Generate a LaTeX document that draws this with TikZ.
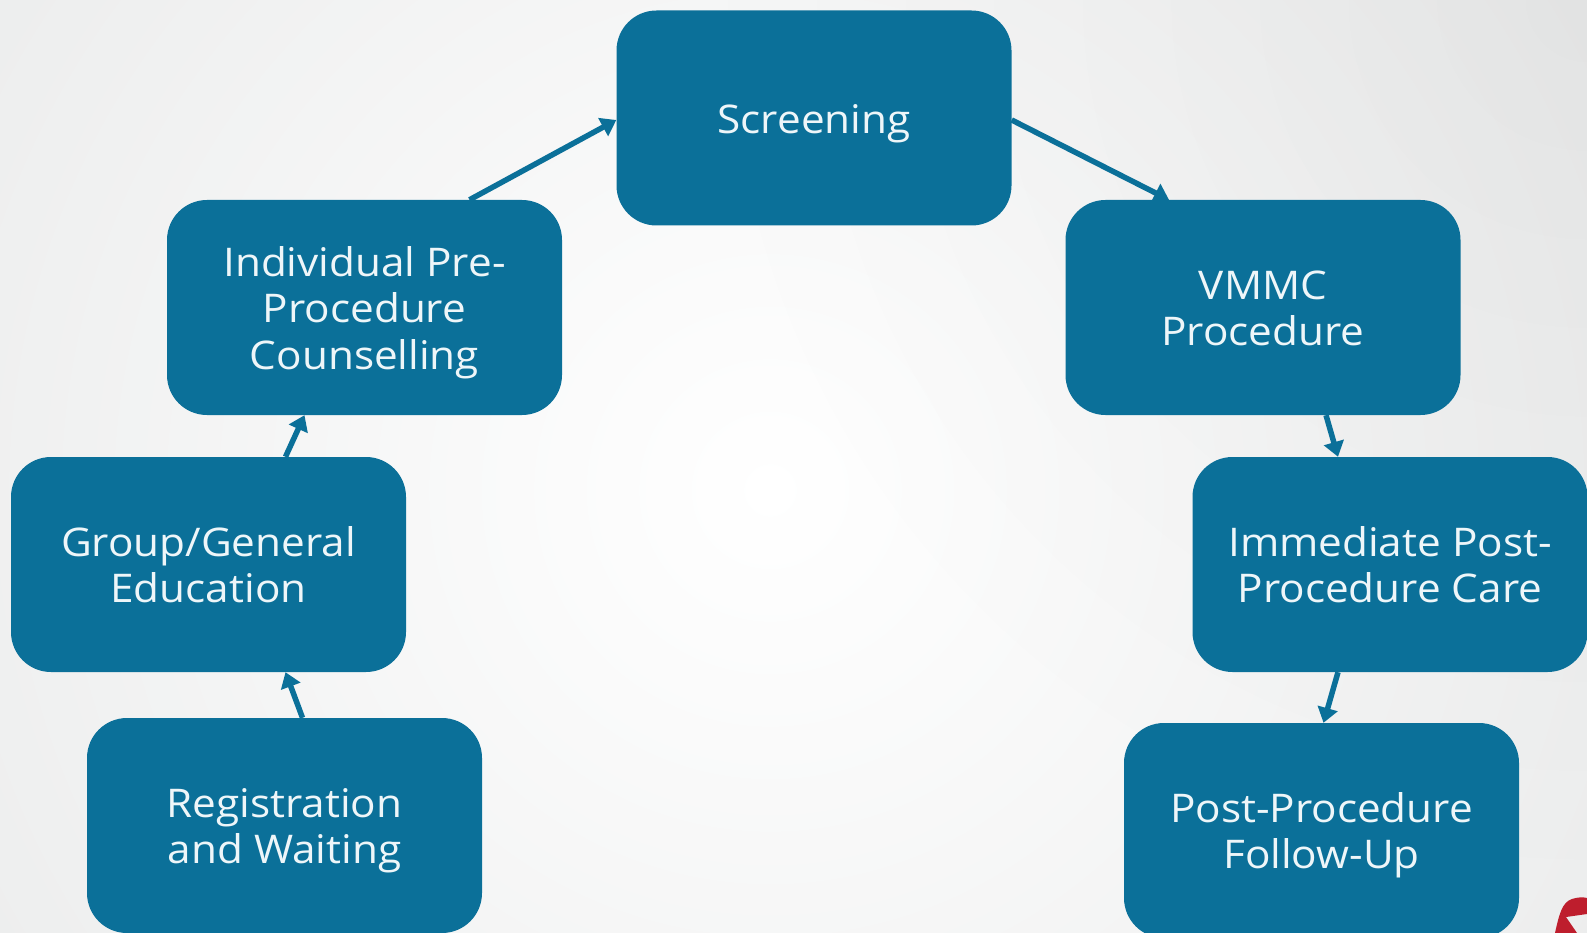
\documentclass[tikz,border=0pt]{standalone}
\usepackage{fontspec}
\setmainfont{Open Sans}[FakeStretch=1.07]
\definecolor{boxblue}{HTML}{0B7099}
\definecolor{boxtext}{HTML}{EEF6F9}
\definecolor{logored}{HTML}{BE1E2D}
\definecolor{bgedge}{HTML}{EAEBEB}
\usetikzlibrary{arrows.meta,fadings}
\tikzfading[name=cornerfade,inner color=transparent!96,outer color=transparent!100]
\newcommand{\steptext}[1]{\raisebox{-12pt}[0pt][0pt]{\setlength{\tabcolsep}{0pt}\begin{tabular}{c}#1\end{tabular}}}
\tikzset{
  stepbox/.style={draw=none,fill=boxblue,rounded corners=40pt,minimum width=395pt,minimum height=215pt,inner sep=0pt,
    text=boxtext,font=\fontsize{39.5}{46.5}\selectfont},
  flow/.style={draw=boxblue,line width=5.5pt,-{Triangle[length=15pt,width=20pt]}}
}
\begin{document}
\begin{tikzpicture}[x=1pt,y=-1pt]
\useasboundingbox (0,0) rectangle (1587,933);
\begin{scope}
\clip (0,0) rectangle (1587,933);
\shade[inner color=white,outer color=bgedge] (770,490) circle (1050pt);
\fill[black,path fading=cornerfade] (1587,0) circle (900pt);
\node[stepbox] (screen) at (814,118) {\steptext{Screening}};
\node[stepbox] (pre) at (364.5,307.5) {\steptext{Individual Pre-\\Procedure\\Counselling}};
\node[stepbox] (group) at (208.5,564.5) {\steptext{Group/General\\Education}};
\node[stepbox] (reg) at (284.5,825.5) {\steptext{Registration\\and Waiting}};
\node[stepbox] (vmmc) at (1263,307.5) {\steptext{VMMC\\Procedure}};
\node[stepbox] (imm) at (1390,564.5) {\steptext{Immediate Post-\\Procedure Care}};
\node[stepbox] (post) at (1321.5,830.5) {\steptext{Post-Procedure\\Follow-Up}};
\draw[flow] ([xshift=18pt]reg.north) -- ([xshift=77pt]group.south);
\draw[flow] ([xshift=77pt]group.north) -- ([xshift=-60pt]pre.south);
\draw[flow] ([xshift=105pt]pre.north) -- ([yshift=-2pt]screen.west);
\draw[flow] ([yshift=-2pt]screen.east) -- ([xshift=-94pt]vmmc.north);
\draw[flow] ([xshift=63pt]vmmc.south) -- ([xshift=-52pt]imm.north);
\draw[flow] ([xshift=-52pt]imm.south) -- ([xshift=2pt]post.north);
\fill[logored,even odd rule] (1555,933) .. controls (1559,915) and (1562,902) .. (1572,899) .. controls (1578,897) and (1583,897) .. (1587,898) -- (1587,933) -- cycle
  (1566,917) -- (1587,914) -- (1587,933) -- (1577,933) -- cycle;
\end{scope}
\end{tikzpicture}
\end{document}
